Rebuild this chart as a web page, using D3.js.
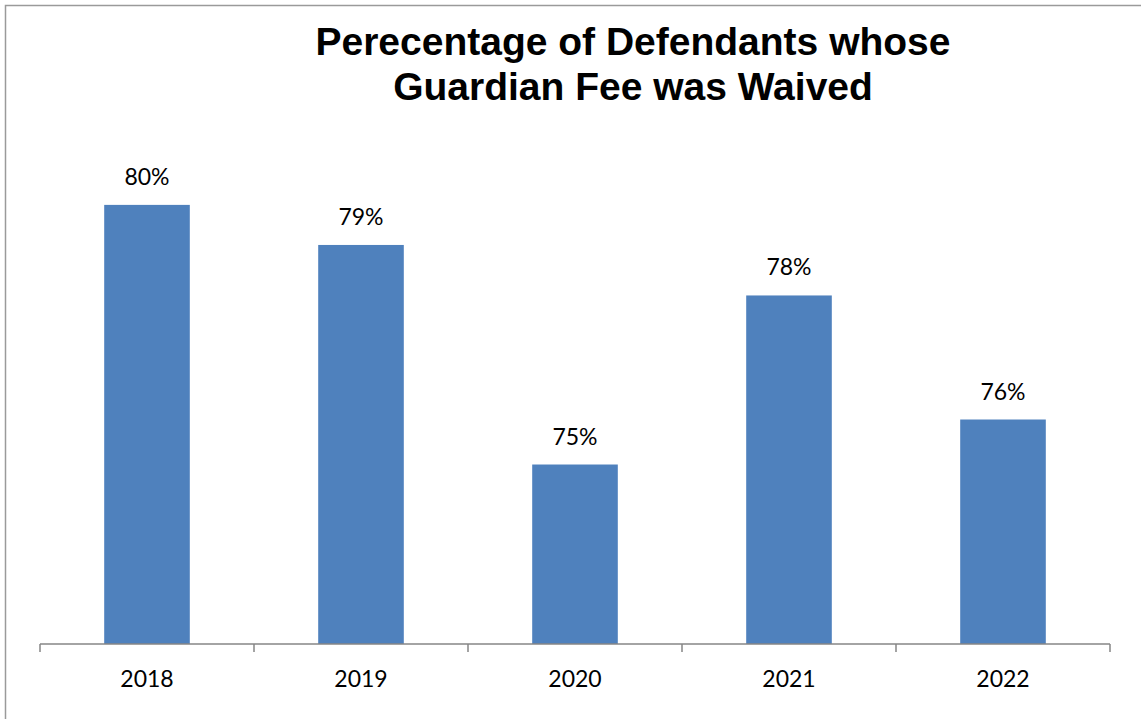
<!DOCTYPE html>
<html lang="en">
<head>
    <meta charset="UTF-8">
    <title>Guardian Fee Waived</title>
    <script src="https://cdn.jsdelivr.net/npm/d3@7"></script>
    <style>
        body { margin: 0; background: #fff; }
    </style>
</head>
<body>
<script>
    // data (labels are rounded to whole percents)
    var years = ["2018", "2019", "2020", "2021", "2022"];
    var waived = [0.800, 0.7927, 0.7527, 0.7835, 0.7609];
    var titleLines = ["Perecentage of Defendants whose", "Guardian Fee was Waived"];

    var width = 1141, height = 719;
    var left = 40, right = 1110, bottom = 644;

    var svg = d3.select("body").append("svg")
        .attr("width", width)
        .attr("height", height);

    // chart area border (right and bottom edges fall outside the picture)
    svg.append("rect")
        .attr("x", 5.5)
        .attr("y", 5.5)
        .attr("width", width + 20)
        .attr("height", height + 20)
        .attr("fill", "#fff")
        .attr("stroke", "#9a9a9a")
        .attr("stroke-width", 1.5);

    var x = d3.scaleBand()
        .domain(years)
        .range([left, right])
        .paddingInner(0.6)
        .paddingOuter(0.3);

    var y = d3.scaleLinear()
        .domain([0.72, 0.81])
        .range([bottom, 150]);

    svg.selectAll("rect.bar")
        .data(years)
        .enter()
        .append("rect")
        .attr("class", "bar")
        .attr("x", function (d) { return x(d); })
        .attr("width", x.bandwidth())
        .attr("y", function (d, i) { return y(waived[i]); })
        .attr("height", function (d, i) { return bottom - y(waived[i]); })
        .attr("fill", "#4f81bd");

    svg.selectAll("text.val")
        .data(years)
        .enter()
        .append("text")
        .attr("class", "val")
        .attr("x", function (d) { return x(d) + x.bandwidth() / 2; })
        .attr("y", function (d, i) { return y(waived[i]) - 20; })
        .attr("text-anchor", "middle")
        .style("font-family", "Lato, 'Open Sans', sans-serif")
        .style("font-size", "23px")
        .style("fill", "#000")
        .text(function (d, i) { return d3.format(".0%")(waived[i]); });

    // category axis with ticks between the bars
    var axis = svg.append("g")
        .attr("transform", "translate(0," + bottom + ")");

    axis.append("line")
        .attr("x1", left)
        .attr("x2", right)
        .attr("stroke", "#868686")
        .attr("stroke-width", 1.5);

    var tickPos = years.map(function (d) { return x(d) - x.step() * x.paddingOuter(); });
    tickPos.push(right);

    axis.selectAll("line.tick")
        .data(tickPos)
        .enter()
        .append("line")
        .attr("class", "tick")
        .attr("x1", function (d) { return d; })
        .attr("x2", function (d) { return d; })
        .attr("y1", 0)
        .attr("y2", 8)
        .attr("stroke", "#868686")
        .attr("stroke-width", 1.5);

    axis.selectAll("text")
        .data(years)
        .enter()
        .append("text")
        .attr("x", function (d) { return x(d) + x.bandwidth() / 2; })
        .attr("y", 43)
        .attr("text-anchor", "middle")
        .style("font-family", "Lato, 'Open Sans', sans-serif")
        .style("font-size", "23px")
        .style("fill", "#000")
        .text(function (d) { return d; });

    svg.append("text")
        .attr("x", 633)
        .attr("y", 55)
        .attr("text-anchor", "middle")
        .style("font-family", "'Liberation Sans', Arial, sans-serif")
        .style("font-weight", "bold")
        .style("font-size", "39px")
        .selectAll("tspan")
        .data(titleLines)
        .enter()
        .append("tspan")
        .attr("x", 633)
        .attr("dy", function (d, i) { return i === 0 ? 0 : 45; })
        .text(function (d) { return d; });
</script>
</body>
</html>
